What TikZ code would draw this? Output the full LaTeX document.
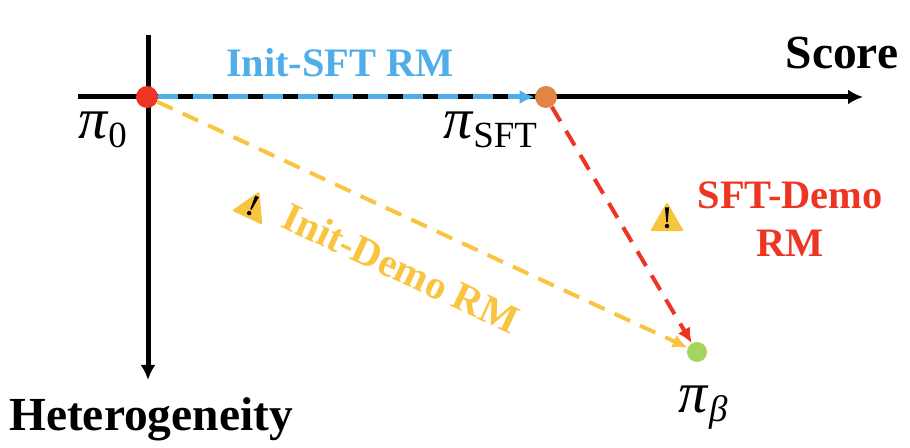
\documentclass[tikz,border=0pt]{standalone}
\usepackage{fontspec}
\setmainfont{Liberation Serif}
\usetikzlibrary{arrows.meta}
\definecolor{sftblue}{HTML}{4FAEEA}
\definecolor{demored}{HTML}{EE3524}
\definecolor{demoyellow}{HTML}{F9C440}
\definecolor{sftorange}{HTML}{E08544}
\definecolor{betagreen}{HTML}{A4D65E}
\newcommand{\pilab}[1]{\textit{π}\raisebox{-5pt}{\fontsize{21}{21}\selectfont #1}}
\tikzset{
  dot/.style={circle, fill=#1, inner sep=0pt, minimum size=0.44cm},
  axis/.style={-{Latex[length=0.3cm, width=0.3cm]}, line width=0.1cm},
  link/.style={-{Latex[length=0.3cm, width=0.28cm]}, line width=0.08cm},
  bold/.style={font=\fontsize{#1}{#1}\selectfont\bfseries, inner sep=0pt},
  pilabel/.style={font=\fontsize{33}{33}\selectfont, inner sep=0pt},
  pics/warnsign/.style={code={
    \fill[demoyellow, draw=demoyellow, line width=1.2pt, line join=round]
      (-0.3,-0.26) -- (0.3,-0.26) -- (0,0.26) -- cycle;
    \fill[black] (-0.04,0.19) -- (0.04,0.19) -- (0.015,-0.1) -- (-0.015,-0.1) -- cycle;
    \fill[black] (0,-0.18) circle (0.045);
  }},
}
\begin{document}
\begin{tikzpicture}[>=Latex]
  \useasboundingbox (0,0) rectangle (18.2,8.96);

  % --- ejes ---
  \coordinate (xstart) at (1.56,7.02);
  \coordinate (xend) at (17.26,7.02);
  \coordinate (ystart) at (2.96,8.26);
  \coordinate (yend) at (2.96,1.36);
  \draw[axis] (xstart) -- (xend);
  \draw[axis] (ystart) -- (yend);

  % --- puntos ---
  \node[dot=demored] (pizero) at (2.94,7.02) {};
  \node[dot=sftorange] (pisft) at (10.92,7.02) {};
  \node[dot=betagreen, minimum size=0.4cm] (pibeta) at (13.94,1.92) {};

  % --- flechas ---
  \draw[link, sftblue, line width=0.1cm, dash pattern=on 0.4cm off 0.3cm] (pizero) -- (pisft);
  \draw[link, demoyellow, dash pattern=on 0.34cm off 0.22cm] (pizero) -- (pibeta);
  \draw[link, demored, dash pattern=on 0.34cm off 0.22cm] (pisft) -- (pibeta);

  % --- etiquetas ---
  \node[pilabel] (labzero) at (2.05,6.36) {\pilab{0}};
  \node[pilabel] (labsft) at (9.8,6.36) {\pilab{SFT}};
  \node[pilabel] (labbeta) at (14.06,0.8) {\pilab{\textit{β}}};
  \node[bold=27] (score) at (16.84,7.9) {Score};
  \node[bold=27] (hetero) at (3.02,0.58) {Heterogeneity};
  \node[bold=23, text=sftblue] (initsft) at (6.8,7.7) {Init-SFT RM};
  \node[bold=23, text=demoyellow, rotate=-25] (initdemo) at (8.02,3.6) {Init-Demo RM};
  \node[bold=23, text=demored, align=center] (sftdemo) at (15.8,4.58) {SFT-Demo\\[4pt]RM};

  % --- avisos ---
  \pic at (13.34,4.62) {warnsign};
  \pic[rotate=-25] at (5.06,4.86) {warnsign};
\end{tikzpicture}
\end{document}
